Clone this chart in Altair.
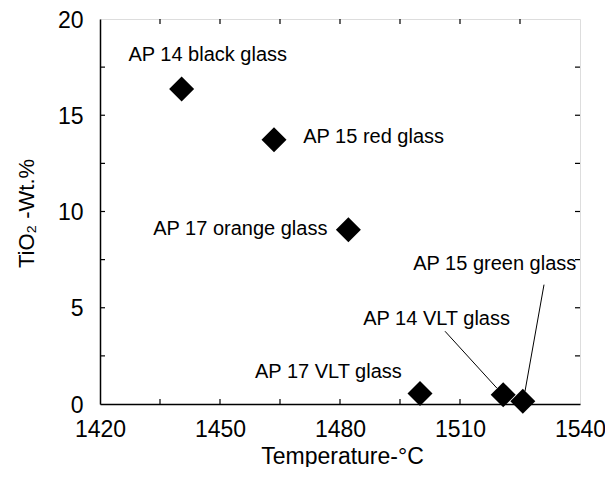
import altair as alt
import pandas as pd

# Data points
samples = ["AP 14 black glass", "AP 15 red glass", "AP 17 orange glass",
           "AP 17 VLT glass", "AP 14 VLT glass", "AP 15 green glass"]
temperature = [1440.4, 1463.5, 1482.1, 1500.0, 1520.8, 1525.7]
tio2 = [16.36, 13.73, 9.05, 0.54, 0.48, 0.14]

# Label anchor positions (left edge, baseline) in data units
label_x = [1427.1, 1470.8, 1433.3, 1458.75, 1485.8, 1498.3]
label_y = [17.80, 13.56, 8.80, 1.35, 4.12, 6.98]

# Leader lines (label -> point)
leader_x1 = [1506.25, 1531.0]
leader_y1 = [3.78, 6.20]
leader_x2 = [1519.2, 1526.25]
leader_y2 = [0.83, 0.66]

# Axis ticks
x_major = [1420, 1450, 1480, 1510, 1540]
y_major = [0, 5, 10, 15, 20]
x_ticks = [1435, 1450, 1465, 1480, 1495, 1510, 1525]
y_ticks = [2.5, 5, 7.5, 10, 12.5, 15, 17.5]

W, H = 480, 385
FONT = "Liberation Sans"

xscale = alt.Scale(domain=[1420, 1540], nice=False, zero=False)
yscale = alt.Scale(domain=[0, 20], nice=False, zero=False)

pts = pd.DataFrame({"T": temperature, "TiO2": tio2, "name": samples})
labels = pd.DataFrame({"lx": label_x, "ly": label_y, "name": samples})
leaders = pd.DataFrame({"x1": leader_x1, "y1": leader_y1, "x2": leader_x2, "y2": leader_y2})
xt = pd.DataFrame({"t": x_ticks})
yt = pd.DataFrame({"v": y_ticks})

xaxis = alt.Axis(values=x_major, format="d", title="Temperature-°C", ticks=False, tickSize=0,
                 grid=False, domainColor="black", domainWidth=1.5,
                 labelFont=FONT, labelFontSize=23, labelColor="black",
                 labelBaseline="alphabetic", labelPadding=32, labelFlush=False,
                 titleFont=FONT, titleFontSize=23, titleFontWeight="normal",
                 titleColor="black", titleBaseline="alphabetic",
                 titleX=242, titleY=59, titleAlign="center")
yaxis = alt.Axis(values=y_major, format="d", title="TiO₂ -Wt.%", ticks=False, tickSize=0,
                 grid=False, domainColor="black", domainWidth=1.5,
                 labelFont=FONT, labelFontSize=23, labelColor="black",
                 labelBaseline="alphabetic", labelOffset=8, labelPadding=17,
                 labelFlush=False,
                 titleFont=FONT, titleFontSize=22, titleFontWeight="normal",
                 titleColor="black", titleBaseline="alphabetic", titleAngle=-90,
                 titleX=-67, titleY=194, titleAlign="center")

points = alt.Chart(pts).mark_point(shape="diamond", filled=True, size=625,
                                   color="black", opacity=1).encode(
    x=alt.X("T:Q", scale=xscale, axis=xaxis),
    y=alt.Y("TiO2:Q", scale=yscale, axis=yaxis),
)

text = alt.Chart(labels).mark_text(align="left", baseline="alphabetic",
                                   font=FONT, fontSize=20, color="black").encode(
    x=alt.X("lx:Q", scale=xscale),
    y=alt.Y("ly:Q", scale=yscale),
    text="name:N",
)

lines = alt.Chart(leaders).mark_rule(color="black", strokeWidth=1).encode(
    x=alt.X("x1:Q", scale=xscale),
    y=alt.Y("y1:Q", scale=yscale),
    x2="x2:Q",
    y2="y2:Q",
)

bottom_ticks = alt.Chart(xt).mark_rule(color="black", strokeWidth=1.2).encode(
    x=alt.X("t:Q", scale=xscale), y=alt.value(H), y2=alt.value(H - 5))
top_ticks = alt.Chart(xt).mark_rule(color="black", strokeWidth=1.2).encode(
    x=alt.X("t:Q", scale=xscale), y=alt.value(0), y2=alt.value(5))
left_ticks = alt.Chart(yt).mark_rule(color="black", strokeWidth=1.2).encode(
    y=alt.Y("v:Q", scale=yscale), x=alt.value(0), x2=alt.value(5))
right_ticks = alt.Chart(yt).mark_rule(color="black", strokeWidth=1.2).encode(
    y=alt.Y("v:Q", scale=yscale), x=alt.value(W), x2=alt.value(W - 5))

chart = alt.layer(bottom_ticks, top_ticks, left_ticks, right_ticks,
                  lines, points, text).properties(
    width=W, height=H,
    autosize=alt.AutoSizeParams(type="none"),
    padding={"left": 92, "top": 11, "right": 25, "bottom": 63},
).configure_view(stroke="black", strokeWidth=1.5).configure(background="white")

chart.save("out.html", embed_options={"renderer": "svg", "actions": False})
